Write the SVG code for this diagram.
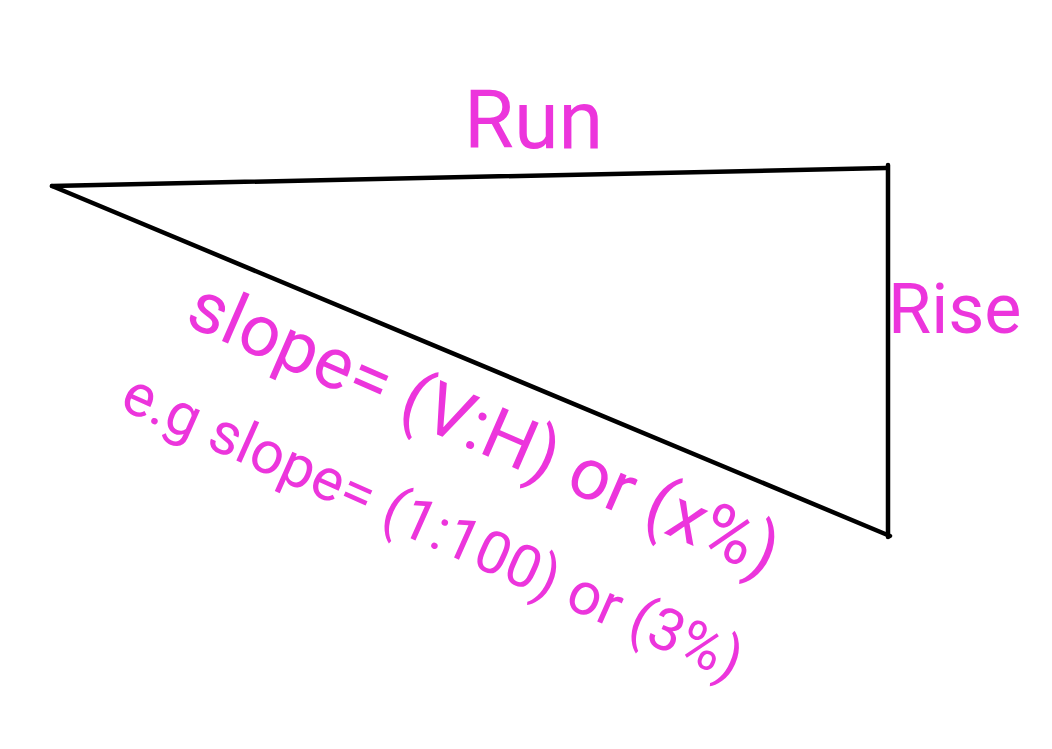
<svg xmlns="http://www.w3.org/2000/svg" width="1052" height="749" viewBox="0 0 1052 749">
<style>
.edge{stroke:#000;stroke-width:4.5;stroke-linecap:round;fill:none}
.lbl{font-family:Roboto,"Liberation Sans",sans-serif;fill:#ec35dc}
</style>
<rect width="1052" height="749" fill="#fff"/>
<g id="connectors">
<line class="edge" x1="52" y1="186" x2="886" y2="168"/>
<line class="edge" x1="888" y1="165" x2="888" y2="537"/>
<line class="edge" x1="52" y1="186" x2="890" y2="536"/>
</g>
<g id="run"><text class="lbl" x="464" y="148" font-size="81">Run</text></g>
<g id="rise"><text class="lbl" x="888" y="333" font-size="70">Rise</text></g>
<g id="slope"><text class="lbl" font-size="72" transform="translate(183 324) rotate(23.5)">slope= (V:H) or (x%)</text></g>
<g id="example"><text class="lbl" font-size="59" transform="translate(118 408) rotate(24)">e.g slope= (1:100) or (3%)</text></g>
</svg>
